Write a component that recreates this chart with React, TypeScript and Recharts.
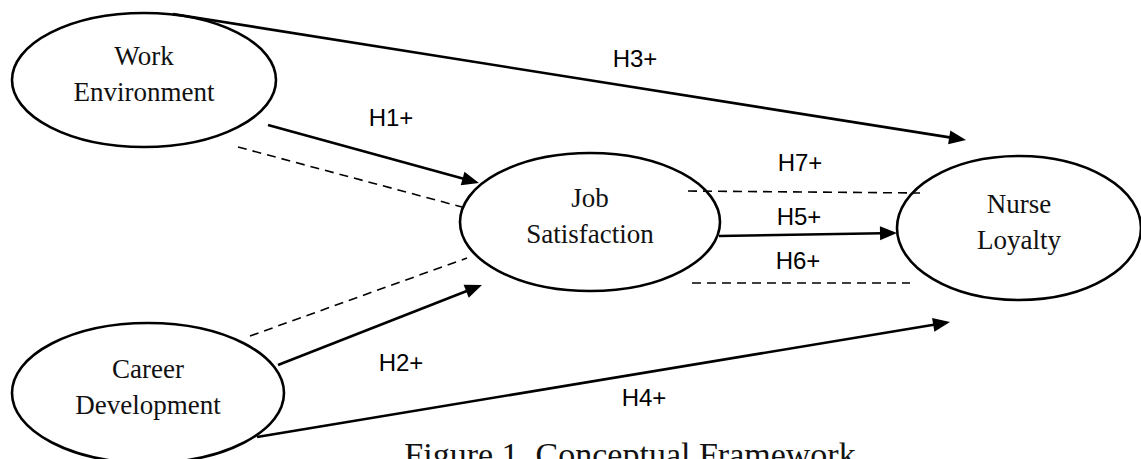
import React from 'react';
import { ScatterChart, Scatter, XAxis, YAxis, ReferenceArea, ReferenceLine } from 'recharts';

// diagram units = pixels of the 1141x459 frame
const nodeLines = [
  ['Work', 'Environment'],
  ['Career', 'Development'],
  ['Job', 'Satisfaction'],
  ['Nurse', 'Loyalty'],
];
const nodeX = [144, 148, 590, 1019];
const nodeY = [80, 393, 222, 228];
const nodeRx = [132, 136, 130, 122];
const nodeRy = [67, 70, 69, 72];

// solid paths with an arrow head at the end (H3, H1, H2, H4, H5)
const arrowFrom = [[173, 14], [268, 125], [278, 365], [257, 437], [719, 236]];
const arrowTo = [[966, 140], [479, 183], [482, 285], [950, 322], [897, 233]];

// dashed mediation lines
const dashFrom = [[238, 147], [250, 336], [688, 191], [692, 283]];
const dashTo = [[462, 207], [467, 258], [920, 193], [910, 283]];

const hypLabels = ['H1+', 'H2+', 'H3+', 'H4+', 'H5+', 'H6+', 'H7+'];
const hypX = [391, 401, 635, 644, 799, 798, 800];
const hypY = [117, 362, 58, 397, 216, 260, 162];

const captionText = 'Figure 1. Conceptual Framework';
const captionX = 630;
const captionY = 455;

const labelData = hypLabels.map((t, i) => ({ x: hypX[i], y: hypY[i], text: t }));
const captionData = [{ x: captionX, y: captionY, text: captionText }];

const SERIF = '"Liberation Serif", "DejaVu Serif", serif';
const SANS = '"Liberation Sans", Arial, sans-serif';

const NodeShape = (props: any) => {
  const { x, y, width, height, lines } = props;
  const cx = x + width / 2;
  const cy = y + height / 2;
  return (
    <g>
      <ellipse cx={cx} cy={cy} rx={width / 2} ry={height / 2} fill="none" stroke="#000" strokeWidth={2.6} />
      <text x={cx} y={cy - 24} dy="0.33em" textAnchor="middle" fontFamily={SERIF} fontSize={27} fill="#111">
        {lines[0]}
      </text>
      <text x={cx} y={cy + 12} dy="0.33em" textAnchor="middle" fontFamily={SERIF} fontSize={27} fill="#111">
        {lines[1]}
      </text>
    </g>
  );
};

const ArrowShape = (props: any) => {
  const { x1, y1, x2, y2 } = props;
  const dx = x2 - x1;
  const dy = y2 - y1;
  const len = Math.sqrt(dx * dx + dy * dy) || 1;
  const ux = dx / len;
  const uy = dy / len;
  const head = 17;
  const half = 7;
  const bx = x2 - ux * head;
  const by = y2 - uy * head;
  const pts = `${x2},${y2} ${bx - uy * half},${by + ux * half} ${bx + uy * half},${by - ux * half}`;
  return (
    <g>
      <line x1={x1} y1={y1} x2={bx + ux * 2} y2={by + uy * 2} stroke="#000" strokeWidth={2.6} />
      <polygon points={pts} fill="#000" />
    </g>
  );
};

const DashShape = (props: any) => {
  const { x1, y1, x2, y2 } = props;
  return <line x1={x1} y1={y1} x2={x2} y2={y2} stroke="#000" strokeWidth={1.6} strokeDasharray="9 6" />;
};

const HypLabel = (props: any) => (
  <text x={props.cx} y={props.cy} dy="0.36em" textAnchor="middle" fontFamily={SANS} fontSize={24} fill="#000">
    {props.payload.text}
  </text>
);

const CaptionLabel = (props: any) => (
  <text x={props.cx} y={props.cy} dy="0.33em" textAnchor="middle" fontFamily={SERIF} fontSize={34} fill="#111">
    {props.payload.text}
  </text>
);

export default function App() {
  return (
    <div style={{ position: 'absolute', left: 0, top: 0, background: '#fff' }}>
      <ScatterChart width={1141} height={459} margin={{ top: 0, right: 0, bottom: 0, left: 0 }}>
        <XAxis type="number" dataKey="x" domain={[0, 1141]} hide allowDataOverflow />
        <YAxis type="number" dataKey="y" domain={[0, 459]} reversed hide allowDataOverflow />

        {nodeLines.map((lines, i) => (
          <ReferenceArea
            key={`node-${i}`}
            x1={nodeX[i] - nodeRx[i]}
            x2={nodeX[i] + nodeRx[i]}
            y1={nodeY[i] - nodeRy[i]}
            y2={nodeY[i] + nodeRy[i]}
            ifOverflow="visible"
            shape={(p: any) => <NodeShape {...p} lines={lines} />}
          />
        ))}

        {arrowFrom.map((from, i) => (
          <ReferenceLine
            key={`arrow-${i}`}
            segment={[{ x: from[0], y: from[1] }, { x: arrowTo[i][0], y: arrowTo[i][1] }]}
            ifOverflow="visible"
            shape={ArrowShape}
          />
        ))}

        {dashFrom.map((from, i) => (
          <ReferenceLine
            key={`dash-${i}`}
            segment={[{ x: from[0], y: from[1] }, { x: dashTo[i][0], y: dashTo[i][1] }]}
            ifOverflow="visible"
            shape={DashShape}
          />
        ))}

        <Scatter data={labelData} isAnimationActive={false} shape={HypLabel} />
        <Scatter data={captionData} isAnimationActive={false} shape={CaptionLabel} />
      </ScatterChart>
    </div>
  );
}
